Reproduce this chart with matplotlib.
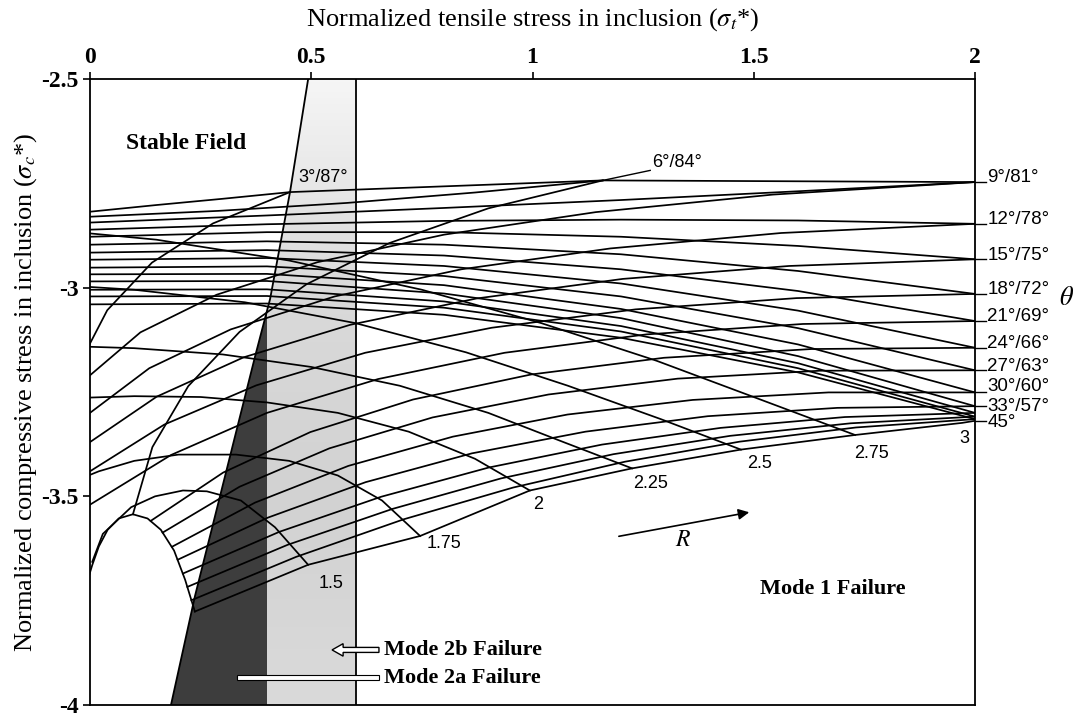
import numpy as np
import matplotlib
matplotlib.use("Agg")
import matplotlib.pyplot as plt
from matplotlib.colors import LinearSegmentedColormap
from matplotlib.patches import Polygon, Rectangle, FancyArrow

plt.rcParams['font.family'] = ['Liberation Serif', 'DejaVu Serif']
plt.rcParams['mathtext.fontset'] = 'stix'

# ---- theta = 45 line, vertices of the R curves -------------------------
vert_x = [0.237, 0.493, 0.746, 0.994, 1.225, 1.471, 1.729, 1.971, 2.0]
vert_y = [-3.776, -3.664, -3.595, -3.486, -3.433, -3.388, -3.353, -3.324, -3.319]

# ---- R = 1.25 arch (edge of the blank field) ---------------------------
arch_x = [0.237, 0.215, 0.19, 0.16, 0.13, 0.097, 0.065, 0.04, 0.02, 0.005, -0.005]
arch_y = [-3.776, -3.70, -3.63, -3.58, -3.553, -3.543, -3.553, -3.58, -3.62, -3.665, -3.70]

# ---- constant theta lines, theta = 3 ... 42 deg ------------------------
theta_lo = [3, 6, 9, 12, 15, 18, 21, 24, 27, 30, 33, 36, 39, 42]
lo_x = [
    [-0.005, -0.048, -0.055, -0.026, 0.039, 0.140, 0.278, 0.452],
    [0.097, 0.141, 0.222, 0.338, 0.489, 0.677, 0.900, 1.159],
    [0.000, 0.114, 0.286, 0.514, 0.800, 1.143, 1.543, 2.000],
    [0.000, 0.134, 0.318, 0.553, 0.839, 1.176, 1.562, 2.000],
    [0.000, 0.151, 0.347, 0.588, 0.873, 1.204, 1.580, 2.000],
    [0.000, 0.168, 0.376, 0.622, 0.908, 1.233, 1.597, 2.000],
    [0.000, 0.183, 0.400, 0.651, 0.937, 1.257, 1.611, 2.000],
    [0.137, 0.301, 0.498, 0.730, 0.997, 1.297, 1.631, 2.000],
    [0.164, 0.338, 0.541, 0.774, 1.036, 1.328, 1.649, 2.000],
    [0.185, 0.373, 0.584, 0.820, 1.079, 1.362, 1.669, 2.000],
    [0.198, 0.402, 0.623, 0.863, 1.120, 1.396, 1.689, 2.000],
    [0.210, 0.428, 0.658, 0.901, 1.157, 1.425, 1.706, 2.000],
    [0.220, 0.447, 0.684, 0.929, 1.183, 1.447, 1.719, 2.000],
    [0.229, 0.466, 0.709, 0.956, 1.209, 1.468, 1.731, 2.000],
]
lo_y = [
    [-3.700, -3.510, -3.338, -3.187, -3.054, -2.940, -2.846, -2.771],
    [-3.543, -3.382, -3.236, -3.106, -2.992, -2.893, -2.810, -2.743],
    [-3.210, -3.107, -3.017, -2.939, -2.873, -2.819, -2.777, -2.747],
    [-3.300, -3.193, -3.100, -3.021, -2.956, -2.906, -2.869, -2.847],
    [-3.370, -3.261, -3.167, -3.089, -3.026, -2.979, -2.948, -2.932],
    [-3.440, -3.328, -3.234, -3.156, -3.096, -3.052, -3.025, -3.015],
    [-3.520, -3.401, -3.300, -3.219, -3.156, -3.112, -3.087, -3.080],
    [-3.559, -3.443, -3.346, -3.268, -3.208, -3.168, -3.147, -3.144],
    [-3.587, -3.477, -3.385, -3.311, -3.256, -3.218, -3.199, -3.198],
    [-3.621, -3.515, -3.427, -3.357, -3.304, -3.269, -3.251, -3.251],
    [-3.652, -3.551, -3.466, -3.397, -3.345, -3.308, -3.288, -3.284],
    [-3.685, -3.585, -3.501, -3.431, -3.376, -3.336, -3.310, -3.300],
    [-3.717, -3.616, -3.530, -3.457, -3.399, -3.355, -3.325, -3.309],
    [-3.749, -3.645, -3.555, -3.479, -3.417, -3.369, -3.335, -3.315],
]

# ---- constant theta lines, theta = 87 ... 48 deg -----------------------
hi_87_x = [0.0, 0.15, 0.30, 0.452]
hi_87_y = [-2.818, -2.802, -2.787, -2.771]
hi_84_x = [0.0, 0.29, 0.58, 0.87, 1.159]
hi_84_y = [-2.830, -2.816, -2.797, -2.772, -2.743]
theta_hi = [81, 78, 75, 72, 69, 66, 63, 60, 57, 54, 51, 48]
hi_x = [0.0, 0.4, 0.8, 1.2, 1.6, 2.0]
hi_y = [
    [-2.844, -2.827, -2.809, -2.790, -2.769, -2.747],
    [-2.861, -2.848, -2.840, -2.837, -2.839, -2.847],
    [-2.878, -2.867, -2.867, -2.878, -2.900, -2.932],
    [-2.897, -2.889, -2.897, -2.920, -2.960, -3.015],
    [-2.916, -2.910, -2.923, -2.956, -3.008, -3.080],
    [-2.933, -2.929, -2.948, -2.990, -3.055, -3.144],
    [-2.952, -2.949, -2.972, -3.021, -3.097, -3.198],
    [-2.968, -2.967, -2.994, -3.051, -3.136, -3.251],
    [-2.985, -2.984, -3.014, -3.073, -3.164, -3.284],
    [-3.005, -3.004, -3.033, -3.092, -3.181, -3.300],
    [-3.021, -3.020, -3.048, -3.105, -3.193, -3.309],
    [-3.040, -3.038, -3.065, -3.120, -3.203, -3.315],
]

# ---- constant R curves (R = 1.5 ... 2.75) and the R = 3 top ------------
r_vals = [1.5, 1.75, 2.0, 2.25, 2.5, 2.75]
r_x = [
    [0.493, 0.418, 0.341, 0.264, 0.21, 0.147, 0.093, 0.029, 0.005],
    [0.746, 0.66, 0.56, 0.45, 0.33, 0.2, 0.1, 0.02, -0.05],
    [0.994, 0.87, 0.72, 0.56, 0.4, 0.25, 0.1, -0.05],
    [1.225, 1.07, 0.9, 0.7, 0.5, 0.3, 0.1, -0.05],
    [1.471, 1.29, 1.08, 0.85, 0.6, 0.35, 0.1, -0.05],
    [1.729, 1.52, 1.28, 1.02, 0.75, 0.45, 0.15, -0.05],
]
r_y = [
    [-3.664, -3.574, -3.51, -3.488, -3.486, -3.5, -3.526, -3.59, -3.657],
    [-3.595, -3.51, -3.45, -3.415, -3.40, -3.40, -3.415, -3.44, -3.47],
    [-3.486, -3.41, -3.345, -3.30, -3.275, -3.262, -3.26, -3.265],
    [-3.433, -3.37, -3.30, -3.235, -3.19, -3.16, -3.145, -3.14],
    [-3.388, -3.315, -3.235, -3.155, -3.085, -3.035, -3.005, -2.995],
    [-3.353, -3.27, -3.175, -3.085, -3.005, -2.935, -2.885, -2.865],
]
r3_x = [0.452, 1.159, 2.0]
r3_y = [-2.771, -2.743, -2.747]

# ---- failure fields ------------------------------------------------------
mode2a_x = [0.493, 0.452, 0.407, 0.373, 0.237, 0.183]
mode2a_y = [-2.5, -2.771, -3.027, -3.165, -3.74, -4.0]
dark_x = [0.4, 0.373, 0.237, 0.183, 0.4]
dark_y = [-3.055, -3.165, -3.74, -4.0, -4.0]
tensile_limit = 0.6

# ---- labels ----------------------------------------------------------------
pair_labels = ['9°/81°', '12°/78°', '15°/75°', '18°/72°', '21°/69°', '24°/66°',
               '27°/63°', '30°/60°', '33°/57°', '45°']
pair_y = [-2.747, -2.847, -2.932, -3.015, -3.080, -3.144, -3.198, -3.251, -3.284, -3.319]
pair_text_y = [-2.737, -2.837, -2.922, -3.005, -3.070, -3.134, -3.188, -3.236, -3.285, -3.322]
r_labels = ['1.5', '1.75', '2', '2.25', '2.5', '2.75', '3']
r_lab_x = [0.545, 0.80, 1.012, 1.266, 1.514, 1.767, 1.975]
r_lab_y = [-3.709, -3.612, -3.519, -3.47, -3.422, -3.398, -3.362]

fig = plt.figure(figsize=(10.8, 7.18), dpi=100)
ax = fig.add_axes([90/1080, 13/718, 885/1080, 626/718])
ax.set_xlim(0, 2)
ax.set_ylim(-4, -2.5)

# light stippled band (mode 2b) between the shear curve and the tensile limit
light = Polygon(list(zip(mode2a_x, mode2a_y)) + [(tensile_limit, -4.0), (tensile_limit, -2.5)],
                closed=True, facecolor='none', edgecolor='none')
ax.add_patch(light)
shade = LinearSegmentedColormap.from_list('band', ['#f5f5f5', '#dadada', '#d2d2d2', '#dadada'])
im = ax.imshow(np.linspace(0, 1, 200).reshape(-1, 1), extent=[0.15, tensile_limit, -4.0, -2.5],
               origin='upper', aspect='auto', cmap=shade, vmin=0, vmax=1, zorder=0)
im.set_clip_path(light)
ax.add_patch(Polygon(list(zip(dark_x, dark_y)), closed=True, facecolor='#3d3d3d',
                     edgecolor='none', zorder=1))

kw = dict(color='black', lw=1.25, zorder=3)
ax.plot(vert_x, vert_y, **kw)
ax.plot(arch_x, arch_y, **kw)
for xs, ys in zip(lo_x, lo_y):
    ax.plot(xs, ys, **kw)
ax.plot(hi_87_x, hi_87_y, **kw)
ax.plot(hi_84_x, hi_84_y, **kw)
for ys in hi_y:
    ax.plot(hi_x, ys, **kw)
for xs, ys in zip(r_x, r_y):
    ax.plot(xs, ys, **kw)
ax.plot(r3_x, r3_y, **kw)

ax.plot(mode2a_x, mode2a_y, color='black', lw=1.3, zorder=3)
ax.axvline(tensile_limit, color='black', lw=1.3, zorder=3)

# axes
ax.xaxis.tick_top()
ax.xaxis.set_label_position('top')
ax.set_xticks([0, 0.5, 1, 1.5, 2])
ax.set_xticklabels(['0', '0.5', '1', '1.5', '2'], fontweight='bold', fontsize=17)
ax.set_yticks([-2.5, -3, -3.5, -4])
ax.set_yticklabels(['-2.5', '-3', '-3.5', '-4'], fontweight='bold', fontsize=17)
ax.tick_params(direction='out', length=5, width=1.2, pad=3)
for s in ax.spines.values():
    s.set_linewidth(1.3)
ax.set_xlabel(r'Normalized tensile stress in inclusion ($\sigma_t$*)', fontsize=19, labelpad=15)
ax.set_ylabel(r'Normalized compressive stress in inclusion ($\sigma_c$*)', fontsize=19, labelpad=2)

sans = 'Liberation Sans'
for lab, yv, ty in zip(pair_labels, pair_y, pair_text_y):
    ax.plot([2.0, 2.025], [yv, yv], color='black', lw=1, clip_on=False)
    ax.text(2.028, ty, lab, family=sans, fontsize=13.5, ha='left', va='center', clip_on=False)
ax.text(2.206, -3.025, r'$\theta$', fontsize=19, ha='center', va='center')

for lab, xv, yv in zip(r_labels, r_lab_x, r_lab_y):
    ax.text(xv, yv, lab, family=sans, fontsize=13, ha='center', va='center')

ax.text(0.47, -2.735, '3°/87°', family=sans, fontsize=13, ha='left', va='center')
ax.plot([1.159, 1.266], [-2.743, -2.719], color='black', lw=1)
ax.text(1.27, -2.70, '6°/84°', family=sans, fontsize=13, ha='left', va='center')

ax.text(0.217, -2.654, 'Stable Field', fontsize=17, fontweight='bold', ha='center', va='center')
ax.text(1.679, -3.721, 'Mode 1 Failure', fontsize=16, fontweight='bold', ha='center', va='center')
ax.text(0.664, -3.868, 'Mode 2b Failure', fontsize=16, fontweight='bold', ha='left', va='center')
ax.text(0.664, -3.935, 'Mode 2a Failure', fontsize=16, fontweight='bold', ha='left', va='center')
ax.add_patch(FancyArrow(0.653, -3.868, -0.106, 0, width=0.012, head_width=0.03, head_length=0.025,
                        length_includes_head=True, facecolor='white', edgecolor='black', lw=1, zorder=4))
ax.add_patch(Rectangle((0.332, -3.941), 0.321, 0.012, facecolor='white', edgecolor='black',
                       lw=0.8, zorder=4))

# direction of increasing aspect ratio
ax.annotate('', xy=(1.496, -3.537), xytext=(1.189, -3.597),
            arrowprops=dict(arrowstyle='-|>', color='black', lw=1.2, mutation_scale=16))
ax.text(1.34, -3.607, r'$R$', fontsize=17, ha='center', va='center')

fig.savefig('out.png', dpi=100)
